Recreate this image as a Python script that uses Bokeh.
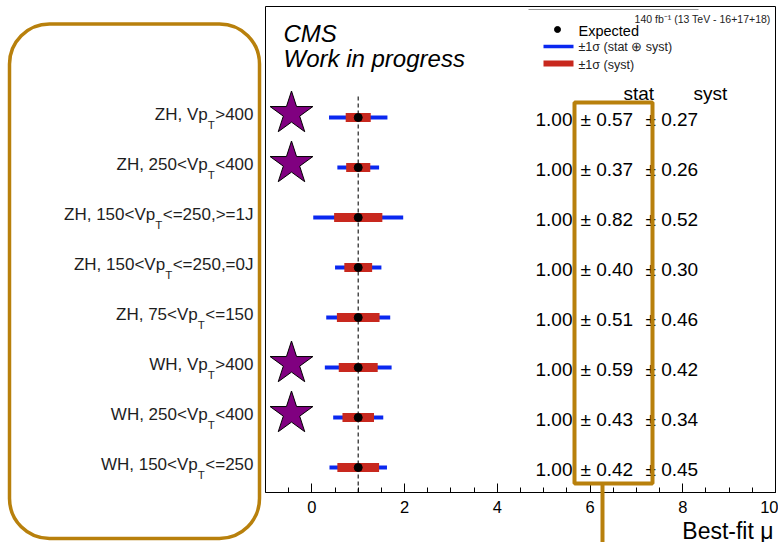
import numpy as np
from bokeh.plotting import figure
from bokeh.models import ColumnDataSource, BoxAnnotation, FixedTicker
from bokeh.core.properties import value
from bokeh.embed import file_html
from bokeh.resources import INLINE

# ---------------- data (top row first) ----------------
label_pre = ["ZH, Vp", "ZH, 250<Vp", "ZH, 150<Vp", "ZH, 150<Vp", "ZH, 75<Vp",
             "WH, Vp", "WH, 250<Vp", "WH, 150<Vp"]
label_sub = ["T", "T", "T", "T", "T", "T", "T", "T"]
label_post = [">400", "<400", "<=250,>=1J", "<=250,=0J", "<=150",
              ">400", "<400", "<=250"]
mu_fit = [1.00, 1.00, 1.00, 1.00, 1.00, 1.00, 1.00, 1.00]
err_stat = [0.57, 0.37, 0.82, 0.40, 0.51, 0.59, 0.43, 0.42]
err_syst = [0.27, 0.26, 0.52, 0.30, 0.46, 0.42, 0.34, 0.45]
err_total = [0.63, 0.45, 0.97, 0.50, 0.69, 0.72, 0.54, 0.62]
starred = [True, True, False, False, False, True, True, False]
x_ticks = [0, 2, 4, 6, 8, 10]
x_frame = [-1.0, 10.0]
mu_sm = 1.0

# ---------------- styling ----------------
FONT = "Liberation Sans"
BLUE = "#0a28f0"
RED = "#c8281e"
GOLD = "#b8800c"
PURPLE = "#800080"

W, H = 778, 542
FR_L, FR_R, FR_T, FR_B = 265, 775, 6, 492   # visible plot box, page pixels
PXU = (FR_R - FR_L) / (x_frame[1] - x_frame[0])
PYU = 50.0
ROW0 = 467  # pixel row of the bottom category


def px2x(px):
    return x_frame[0] + (px - FR_L) / PXU


def px2y(py):
    return (ROW0 - py) / PYU


# Arial / Liberation Sans advance widths (1/1000 em)
AW = {' ': 278, ',': 278, '<': 584, '>': 584, '=': 584, 'Z': 611, 'H': 722,
      'V': 667, 'p': 556, 'W': 944, 'J': 500, 'T': 611}
for d in "0123456789":
    AW[d] = 556


def tw(s, fs):
    return sum(AW.get(c, 556) for c in s) * fs / 1000.0


n = len(mu_fit)
rows = np.arange(n - 1, -1, -1, dtype=float)
mu = np.array(mu_fit)
syst = np.array(err_syst)
tot = np.array(err_total)

p = figure(width=W, height=H, x_range=(px2x(0), px2x(W)), y_range=(px2y(H), px2y(0)),
           output_backend="svg", toolbar_location=None, title=None,
           y_axis_location=None,
           min_border_left=0, min_border_right=0, min_border_top=0, min_border_bottom=0)
p.xgrid.visible = False
p.ygrid.visible = False
p.outline_line_color = None
p.background_fill_color = "white"
p.border_fill_color = "white"

ax = p.xaxis[0]
ax.fixed_location = px2y(FR_B)
ax.ticker = FixedTicker(ticks=x_ticks,
                        minor_ticks=list(np.arange(x_frame[0], x_frame[1] + 0.01, 0.5)))
ax.axis_line_color = None
ax.major_tick_in = 9
ax.major_tick_out = 0
ax.minor_tick_in = 5
ax.minor_tick_out = 0
ax.major_tick_line_color = "black"
ax.minor_tick_line_color = "black"
ax.major_label_text_font = FONT
ax.major_label_text_font_size = "16.5px"
ax.major_label_text_color = "black"
ax.major_label_standoff = 8

# visible plot box
p.add_layout(BoxAnnotation(left=x_frame[0], right=x_frame[1], top=px2y(FR_T),
                           bottom=px2y(FR_B), fill_alpha=0, line_color="black",
                           line_width=1, line_alpha=1))

# luminosity text
p.text(x=[px2x(770)], y=[px2y(18)], text=["140 fb\u207b\u00b9 (13 TeV - 16+17+18)"],
       text_font=value(FONT), text_font_size="10.5px", text_align="right",
       text_baseline="alphabetic", text_color="#222222")

# SM reference dashed line
p.segment(x0=[mu_sm], x1=[mu_sm], y0=[px2y(FR_B)], y1=[px2y(95)],
          line_color="#333333", line_width=1.3, line_dash="4 3")

src = ColumnDataSource(dict(y=rows, mu=mu, lo=mu - tot, hi=mu + tot, w=2 * syst))
p.segment(x0="lo", x1="hi", y0="y", y1="y", source=src,
          line_color=BLUE, line_width=4)
p.rect(x="mu", y="y", width="w", height=9, height_units="screen", source=src,
       fill_color=RED, line_color=None)
p.scatter(x="mu", y="y", size=8, source=src, fill_color="black", line_color="black")

# stars
sy = [r + 0.08 for r, s in zip(rows, starred) if s]
p.scatter(x=[px2x(291)] * len(sy), y=sy, marker="star", size=45,
          fill_color=PURPLE, line_color="black", line_width=1)

# numbers
nsrc = ColumnDataSource(dict(
    y=rows - 0.03,
    c=[f"{m:.2f}" for m in mu_fit],
    s=[f"\u00b1 {v:.2f}" for v in err_stat],
    t=[f"\u00b1 {v:.2f}" for v in err_syst]))
for col, px, al in (("c", 572, "right"), ("s", 580, "left"), ("t", 645, "left")):
    p.text(x=px2x(px), y="y", text=col, source=nsrc, text_font=value(FONT),
           text_font_size="19px", text_align=al, text_baseline="middle",
           text_color="black")
p.text(x=[px2x(623), px2x(693)], y=[px2y(93)] * 2, text=["stat", "syst"],
       text_font=value(FONT), text_font_size="19px", text_align="left",
       text_baseline="middle", text_color="black")

# CMS label
p.text(x=[px2x(283)], y=[px2y(33)], text=["CMS"], text_font=value(FONT),
       text_font_size="24px", text_font_style="italic", text_baseline="middle",
       text_color="black")
p.text(x=[px2x(283)], y=[px2y(58)], text=["Work in progress"], text_font=value(FONT),
       text_font_size="24px", text_font_style="italic", text_baseline="middle",
       text_color="black")

# legend
p.segment(x0=[px2x(528)], x1=[px2x(698)], y0=[px2y(9)], y1=[px2y(9)],
          line_color="#999999", line_width=1)
p.scatter(x=[px2x(557)], y=[px2y(29)], size=6, color="black")
p.segment(x0=[px2x(543)], x1=[px2x(573)], y0=[px2y(46)], y1=[px2y(46)],
          line_color=BLUE, line_width=3.5)
p.segment(x0=[px2x(543)], x1=[px2x(573)], y0=[px2y(63)], y1=[px2y(63)],
          line_color=RED, line_width=6)
p.text(x=[px2x(578)], y=[px2y(30)], text=["Expected"], text_font=value(FONT),
       text_font_size="14.5px", text_baseline="middle", text_color="black")
p.text(x=[px2x(578)] * 2, y=[px2y(46), px2y(64)],
       text=["\u00b11\u03c3 (stat \u2295 syst)", "\u00b11\u03c3 (syst)"],
       text_font=value(FONT), text_font_size="12.5px", text_baseline="middle",
       text_color="#222222")

# left category labels (main text, subscript, remainder)
FS, FS_SUB = 17, 11.5
R_EDGE = 253
post_x, sub_x = [], []
for pre, sub, post in zip(label_pre, label_sub, label_post):
    xs = R_EDGE - tw(post, FS)
    xt = xs - tw(sub, FS_SUB) - 0.5
    post_x.append(px2x(xs))
    sub_x.append(px2x(xt))
lsrc = ColumnDataSource(dict(y_main=rows + 0.06, y_sub=rows - 0.15,
                             pre=label_pre, sub=label_sub, post=label_post,
                             sx=sub_x, qx=post_x))
p.text(x="sx", y="y_main", text="pre", source=lsrc, text_font=value(FONT),
       text_font_size=f"{FS}px", text_align="right", text_baseline="middle",
       text_color="#1e1e1e")
p.text(x="sx", y="y_sub", text="sub", source=lsrc, text_font=value(FONT),
       text_font_size=f"{FS_SUB}px", text_align="left", text_baseline="middle",
       text_color="#1e1e1e")
p.text(x="qx", y="y_main", text="post", source=lsrc, text_font=value(FONT),
       text_font_size=f"{FS}px", text_align="left", text_baseline="middle",
       text_color="#1e1e1e")

# highlight boxes
p.add_layout(BoxAnnotation(left=px2x(9), right=px2x(259), top=px2y(23.5),
                           bottom=px2y(538), border_radius=40,
                           fill_alpha=0, line_color=GOLD, line_width=3.5,
                           line_alpha=1))
p.add_layout(BoxAnnotation(left=px2x(574), right=px2x(652), top=px2y(102),
                           bottom=px2y(483), fill_alpha=0, line_color=GOLD,
                           line_width=4, line_alpha=1))
p.add_layout(BoxAnnotation(left=px2x(600), right=px2x(604), top=px2y(483),
                           bottom=px2y(560), fill_color=GOLD, fill_alpha=1,
                           line_alpha=0))

# axis title
p.text(x=[px2x(773)], y=[px2y(530)], text=["Best-fit \u03bc"], text_font=value(FONT),
       text_font_size="23px", text_align="right", text_baseline="middle",
       text_color="black")

open("out.html", "w").write(file_html(p, INLINE))
